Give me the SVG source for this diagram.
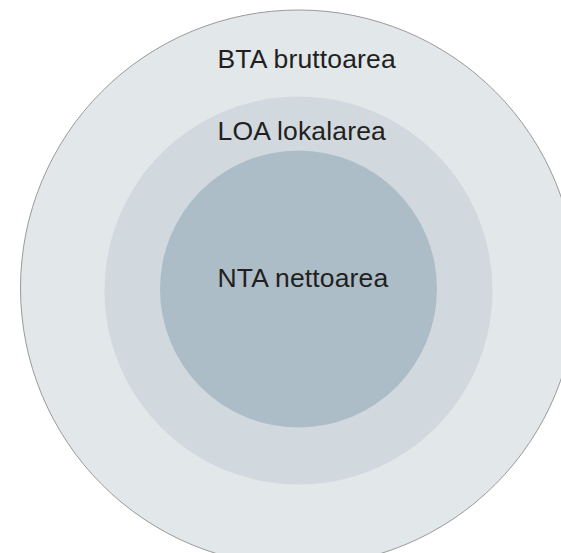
<svg xmlns="http://www.w3.org/2000/svg" width="561" height="553" viewBox="0 0 561 553">
  <style>
    .label { font-family: "Liberation Sans", Arial, sans-serif; font-size: 26.5px; letter-spacing: 0.15px; fill: #231f20; }
  </style>
  <rect width="561" height="553" fill="#ffffff"/>
  <g id="bta">
    <circle cx="298.5" cy="288" r="278" fill="#e2e7ea" stroke="#9a9a9a" stroke-width="1"/>
    <text class="label" x="217.5" y="67.5">BTA bruttoarea</text>
  </g>
  <g id="loa">
    <circle cx="298.5" cy="290.5" r="194" fill="#d1d9df"/>
    <text class="label" x="217.5" y="139.5">LOA lokalarea</text>
  </g>
  <g id="nta">
    <circle cx="298.5" cy="289" r="138.5" fill="#adbdc8"/>
    <text class="label" x="217.5" y="286.5">NTA nettoarea</text>
  </g>
</svg>
